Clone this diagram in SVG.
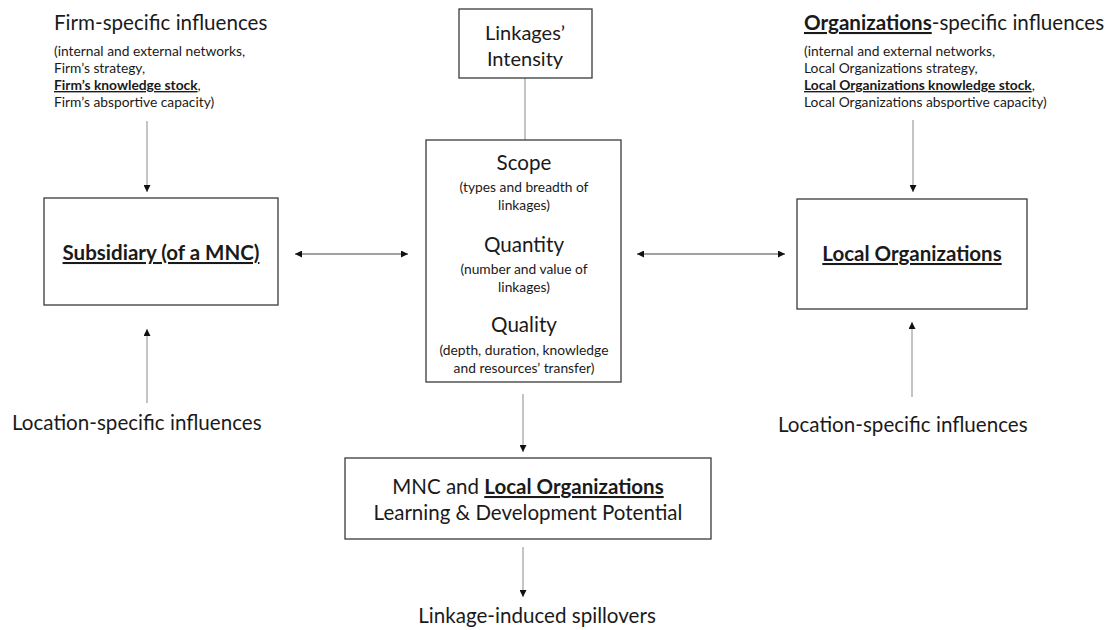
<svg xmlns="http://www.w3.org/2000/svg" width="1112" height="630" viewBox="0 0 1112 630">
<style>
  text { font-family: Lato, "Liberation Sans", sans-serif; fill: #1a1a1a; }
  .h { font-size: 20.6px; }
  .s { font-size: 13.8px; }
  .b { font-weight: bold; }
  .u { text-decoration: underline; }
  .box { fill: #fff; stroke: #3a3a3a; stroke-width: 1.3; }
  .ln { stroke: #444; stroke-width: 1; fill: none; }
  .dl { stroke: #8a8a8a; stroke-width: 1; fill: none; }
  .mid { text-anchor: middle; }
</style>
<defs>
  <marker id="ah" viewBox="0 0 10 10" refX="10" refY="5" markerWidth="7" markerHeight="7" markerUnits="userSpaceOnUse" orient="auto-start-reverse">
    <path d="M0,0 L10,5 L0,10 z" fill="#111"/>
  </marker>
</defs>
<rect width="1112" height="630" fill="#fff"/>

<g id="connectors">
  <line class="dl" x1="147" y1="121" x2="147" y2="192" marker-end="url(#ah)"/>
  <line class="dl" x1="147" y1="403" x2="147" y2="329" marker-end="url(#ah)"/>
  <line class="ln" x1="295" y1="254" x2="408" y2="254" marker-start="url(#ah)" marker-end="url(#ah)"/>
  <line class="ln" x1="637" y1="254" x2="785" y2="254" marker-start="url(#ah)" marker-end="url(#ah)"/>
  <line class="dl" x1="913" y1="120" x2="913" y2="192" marker-end="url(#ah)"/>
  <line class="dl" x1="912" y1="397" x2="912" y2="322" marker-end="url(#ah)"/>
  <line class="dl" x1="525" y1="78" x2="525" y2="140"/>
  <line class="dl" x1="523" y1="394" x2="523" y2="452" marker-end="url(#ah)"/>
  <line class="dl" x1="523" y1="547" x2="523" y2="597" marker-end="url(#ah)"/>
</g>

<g id="firm-influences">
  <text class="h" x="54" y="30" font-size="21">Firm-specific influences</text>
  <text class="s" x="54" y="56">(internal and external networks,</text>
  <text class="s" x="54" y="73">Firm’s strategy,</text>
  <text class="s" x="54" y="90"><tspan class="b u">Firm’s knowledge stock</tspan>,</text>
  <text class="s" x="54" y="107">Firm’s absportive capacity)</text>
</g>

<g id="org-influences">
  <text class="h" x="804" y="30"><tspan class="b u">Organizations</tspan>-specific influences</text>
  <text class="s" x="804" y="56">(internal and external networks,</text>
  <text class="s" x="804" y="73">Local Organizations strategy,</text>
  <text class="s" x="804" y="90"><tspan class="b u">Local Organizations knowledge stock</tspan>,</text>
  <text class="s" x="804" y="107">Local Organizations absportive capacity)</text>
</g>

<g id="subsidiary">
  <rect class="box" x="44" y="198" width="234" height="107"/>
  <text class="b u mid" x="161" y="260" font-size="20.5">Subsidiary (of a MNC)</text>
</g>

<g id="local-organizations">
  <rect class="box" x="797" y="199" width="230" height="110"/>
  <text class="b u mid" x="912" y="261" font-size="20.5">Local Organizations</text>
</g>

<g id="linkages-intensity">
  <rect class="box" x="459" y="9" width="133" height="69"/>
  <text class="mid" x="525" y="40" font-size="20">Linkages’</text>
  <text class="mid" x="525" y="66" font-size="20">Intensity</text>
</g>

<g id="linkage-dimensions">
  <rect class="box" x="426" y="140" width="195" height="242"/>
  <text class="h mid" x="524" y="170">Scope</text>
  <text class="s mid" x="524" y="192">(types and breadth of</text>
  <text class="s mid" x="524" y="210">linkages)</text>
  <text class="h mid" x="524" y="252">Quantity</text>
  <text class="s mid" x="524" y="274">(number and value of</text>
  <text class="s mid" x="524" y="292">linkages)</text>
  <text class="h mid" x="524" y="332">Quality</text>
  <text class="s mid" x="524" y="355">(depth, duration, knowledge</text>
  <text class="s mid" x="524" y="373">and resources’ transfer)</text>
</g>

<g id="learning-potential">
  <rect class="box" x="345" y="458" width="366" height="81"/>
  <text class="mid" x="528" y="494" font-size="20.5">MNC and <tspan class="b u">Local Organizations</tspan></text>
  <text class="mid" x="528" y="520" font-size="20.5">Learning &amp; Development Potential</text>
</g>

<g id="location-left">
  <text class="h" x="12" y="430">Location-specific influences</text>
</g>
<g id="location-right">
  <text class="h" x="778" y="432">Location-specific influences</text>
</g>
<g id="spillovers">
  <text class="h mid" x="537" y="623">Linkage-induced spillovers</text>
</g>
</svg>
